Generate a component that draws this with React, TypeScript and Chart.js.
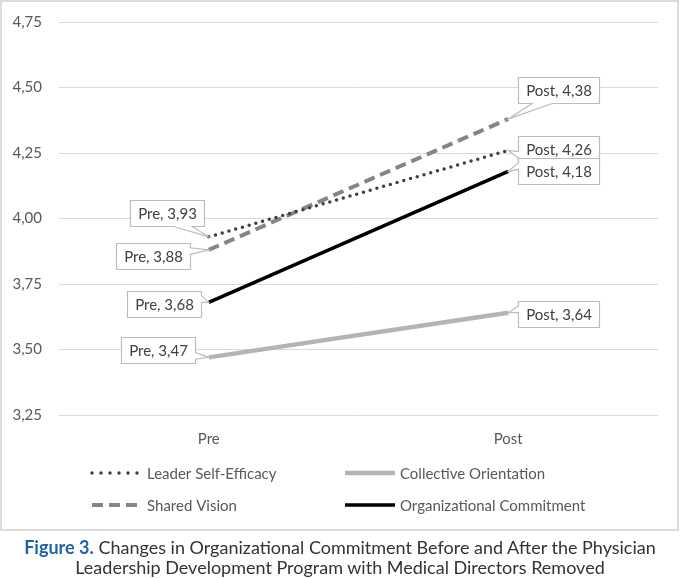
import { useEffect, useRef } from "react";
import { Chart, registerables } from "chart.js";

Chart.register(...registerables);

// ---- data ----
const categories = ["Pre", "Post"];
const seriesNames = [
  "Leader Self-Efficacy",
  "Collective Orientation",
  "Shared Vision",
  "Organizational Commitment",
];
const leaderSelfEfficacy = [3.93, 4.26];
const collectiveOrientation = [3.47, 3.64];
const sharedVision = [3.88, 4.38];
const organizationalCommitment = [3.68, 4.18];
const yTicks = [3.25, 3.5, 3.75, 4.0, 4.25, 4.5, 4.75];

// ---- styling / layout ----
const FONT = 'Lato, "Open Sans", sans-serif';
const TEXT = "#595959";
const W = 680;
const H = 531;

// box-centre offsets (px) of each value callout from its point: [series][category]
const calloutOffsets: number[][][] = [
  [[-42, -24], [50, -1]],
  [[-51, -7], [50, 1]],
  [[-56, 6], [50, -29]],
  [[-45, 2], [50, 0]],
];

// legend item origins, in series order
const legendSlots = [
  { x: 92, y: 473 },
  { x: 345, y: 473 },
  { x: 92, y: 505 },
  { x: 345, y: 505 },
];

const fmt = (v: number) => v.toFixed(2).replace(".", ",");

function calloutPath(
  ctx: CanvasRenderingContext2D,
  l: number,
  t: number,
  w: number,
  h: number,
  tx: number,
  ty: number
) {
  const r = l + w;
  const b = t + h;
  const dxPos = tx - (l + w / 2);
  const dyPos = ty - (t + h / 2);
  const dq = (dxPos * h) / w;
  const dz = Math.abs(dyPos) - Math.abs(dq);
  const xa = l + (w * (dxPos > 0 ? 7 : 2)) / 12;
  const xb = l + (w * (dxPos > 0 ? 10 : 5)) / 12;
  const ya = t + (h * (dyPos > 0 ? 7 : 2)) / 12;
  const yb = t + (h * (dyPos > 0 ? 10 : 5)) / 12;
  ctx.beginPath();
  ctx.moveTo(l, t);
  if (dz > 0 && dyPos < 0) {
    ctx.lineTo(xa, t);
    ctx.lineTo(tx, ty);
    ctx.lineTo(xb, t);
  }
  ctx.lineTo(r, t);
  if (dz <= 0 && dxPos > 0) {
    ctx.lineTo(r, ya);
    ctx.lineTo(tx, ty);
    ctx.lineTo(r, yb);
  }
  ctx.lineTo(r, b);
  if (dz > 0 && dyPos > 0) {
    ctx.lineTo(xb, b);
    ctx.lineTo(tx, ty);
    ctx.lineTo(xa, b);
  }
  ctx.lineTo(l, b);
  if (dz <= 0 && dxPos < 0) {
    ctx.lineTo(l, yb);
    ctx.lineTo(tx, ty);
    ctx.lineTo(l, ya);
  }
  ctx.closePath();
}

const calloutPlugin = {
  id: "valueCallouts",
  afterDatasetsDraw(chart: any) {
    const ctx: CanvasRenderingContext2D = chart.ctx;
    ctx.save();
    ctx.font = `15px ${FONT}`;
    chart.data.datasets.forEach((ds: any, di: number) => {
      const meta = chart.getDatasetMeta(di);
      meta.data.forEach((pt: any, i: number) => {
        const text = `${categories[i]}, ${fmt(ds.data[i])}`;
        const [dx, dy] = calloutOffsets[di][i];
        const w = Math.round(ctx.measureText(text).width + 15);
        const h = 26;
        const l = Math.round(pt.x + dx - w / 2) + 0.5;
        const t = Math.round(pt.y + dy - h / 2) + 0.5;
        calloutPath(ctx, l, t, w, h, pt.x, pt.y);
        ctx.fillStyle = "#ffffff";
        ctx.fill();
        ctx.strokeStyle = "#bcbcbc";
        ctx.lineWidth = 1.2;
        ctx.setLineDash([]);
        ctx.stroke();
        ctx.fillStyle = "#404040";
        ctx.textAlign = "center";
        ctx.textBaseline = "middle";
        ctx.fillText(text, l + w / 2, t + h / 2 + 1);
      });
    });
    ctx.restore();
  },
};

const legendPlugin = {
  id: "gridLegend",
  afterDraw(chart: any) {
    const ctx: CanvasRenderingContext2D = chart.ctx;
    ctx.save();
    chart.data.datasets.forEach((ds: any, di: number) => {
      const slot = legendSlots[di];
      ctx.beginPath();
      ctx.strokeStyle = ds.borderColor;
      ctx.lineWidth = ds.borderWidth;
      ctx.lineCap = ds.borderCapStyle || "butt";
      ctx.setLineDash(ds.legendDash || ds.borderDash || []);
      ctx.moveTo(slot.x, slot.y);
      ctx.lineTo(slot.x + 50, slot.y);
      ctx.stroke();
      ctx.setLineDash([]);
      ctx.font = `15px ${FONT}`;
      ctx.fillStyle = TEXT;
      ctx.textAlign = "left";
      ctx.textBaseline = "middle";
      ctx.fillText(ds.label, slot.x + 55, slot.y + 1);
    });
    ctx.restore();
  },
};

export default function App() {
  const canvasRef = useRef<HTMLCanvasElement | null>(null);

  useEffect(() => {
    if (!canvasRef.current) return;
    const chart = new Chart(canvasRef.current, {
      type: "line",
      data: {
        labels: categories,
        datasets: [
          {
            label: seriesNames[0],
            data: leaderSelfEfficacy,
            borderColor: "#404040",
            borderWidth: 3.5,
            borderDash: [0, 7],
            borderCapStyle: "round",
            legendDash: [0, 9],
          } as any,
          {
            label: seriesNames[1],
            data: collectiveOrientation,
            borderColor: "#b4b4b4",
            borderWidth: 4.5,
          },
          {
            label: seriesNames[2],
            data: sharedVision,
            borderColor: "#858585",
            borderWidth: 4,
            borderDash: [11, 6],
          },
          {
            label: seriesNames[3],
            data: organizationalCommitment,
            borderColor: "#000000",
            borderWidth: 3.5,
          },
        ],
      },
      options: {
        responsive: false,
        animation: false,
        devicePixelRatio: 1,
        layout: { padding: { top: 22, right: 22, bottom: 76, left: 0 } },
        elements: {
          point: { radius: 0, hoverRadius: 0 },
          line: { tension: 0, fill: false },
        },
        plugins: {
          legend: { display: false },
          tooltip: { enabled: false },
        },
        scales: {
          x: {
            type: "category",
            offset: true,
            grid: { display: false },
            border: { display: false },
            ticks: {
              color: TEXT,
              font: { family: FONT, size: 15 },
              padding: 7,
            },
            afterFit: (s: any) => {
              s.height = 40;
            },
          },
          y: {
            min: 3.25,
            max: 4.75,
            afterBuildTicks: (s: any) => {
              s.ticks = yTicks.map((v) => ({ value: v }));
            },
            grid: { color: "#d9d9d9", lineWidth: 1, drawTicks: false },
            border: { display: false },
            ticks: {
              color: TEXT,
              font: { family: FONT, size: 15 },
              padding: 17,
              callback: (v: any) => fmt(Number(v)),
            },
            afterFit: (s: any) => {
              s.width = 59;
              s.paddingTop = 0;
              s.paddingBottom = 0;
            },
          },
        },
      },
      plugins: [calloutPlugin, legendPlugin],
    });
    return () => chart.destroy();
  }, []);

  return (
    <div
      style={{
        position: "absolute",
        left: 0,
        top: 0,
        width: W,
        height: 578,
        background: "#ffffff",
      }}
    >
      <canvas
        ref={canvasRef}
        width={W}
        height={H}
        style={{ position: "absolute", left: 0, top: 0, width: W, height: H }}
      />
      <div
        style={{
          position: "absolute",
          left: 0,
          top: 0,
          width: 679,
          height: 531,
          boxSizing: "border-box",
          border: "2px solid #dcdcdc",
          pointerEvents: "none",
        }}
      />
      <div
        style={{
          position: "absolute",
          left: 0,
          top: 537,
          width: W,
          textAlign: "center",
          fontFamily: FONT,
          fontSize: 18,
          lineHeight: "20px",
          color: "#333333",
        }}
      >
        <span style={{ color: "#1f63a8", fontWeight: 700 }}>Figure 3.</span>{" "}
        Changes in Organizational Commitment Before and After the Physician
        <br />
        Leadership Development Program with Medical Directors Removed
      </div>
    </div>
  );
}
